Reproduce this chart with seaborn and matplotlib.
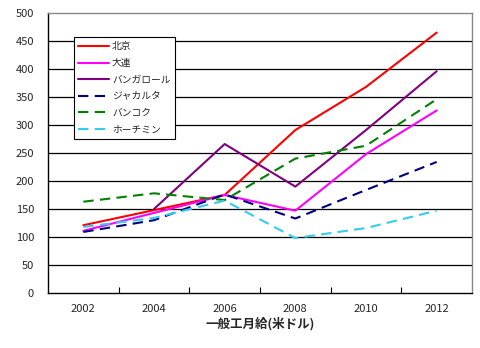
import matplotlib
matplotlib.use("Agg")
import matplotlib.pyplot as plt
import seaborn as sns
import pandas as pd
import numpy as np

years = ["2002", "2004", "2006", "2008", "2010", "2012"]
cities = ["北京", "大連", "バンガロール", "ジャカルタ", "バンコク", "ホーチミン"]
beijing = [121, 148, 175, 291, 368, 465]
dalian = [111, 143, 175, 147, 248, 326]
bangalore = [np.nan, 150, 266, 190, 291, 396]
jakarta = [109, 130, 176, 133, 184, 234]
bangkok = [163, 178, 166, 240, 263, 346]
hochiminh = [118, 134, 165, 98, 116, 147]
series = [beijing, dalian, bangalore, jakarta, bangkok, hochiminh]
colors = ["#FF0000", "#FF00FF", "#800080", "#000080", "#008000", "#33CCEE"]
dash_styles = ["", "", "", (5, 3), (5, 3), (5, 3)]
y_ticks = [0, 50, 100, 150, 200, 250, 300, 350, 400, 450, 500]

rows = []
for c, vals in zip(cities, series):
    for i, v in enumerate(vals):
        rows.append({"city": c, "x": i, "value": v})
df = pd.DataFrame(rows).dropna()

sns.set_theme(style="white")
plt.rcParams["font.family"] = ["Noto Sans CJK JP", "DejaVu Sans"]

fig = plt.figure(figsize=(4.81, 3.48), dpi=100)
ax = fig.add_axes([48 / 481, 1 - 293 / 348, (472 - 48) / 481, (293 - 13) / 348])

sns.lineplot(data=df, x="x", y="value", hue="city", style="city",
             hue_order=cities, style_order=cities,
             palette=dict(zip(cities, colors)),
             dashes=dict(zip(cities, dash_styles)),
             linewidth=1.5, ax=ax, legend=True)

ax.set_xlim(-0.5, 5.5)
ax.set_ylim(0, 500)
ax.set_yticks(y_ticks)
ax.set_yticklabels([str(t) for t in y_ticks], fontsize=8)
ax.set_xticks(range(len(years)))
ax.set_xticklabels(years, fontsize=8)
ax.set_xticks(np.arange(0.5, 5.5, 1), minor=True)
ax.tick_params(axis="x", which="major", length=0, pad=8)
ax.tick_params(axis="x", which="minor", direction="in", length=4, width=0.8, color="black", bottom=True)
ax.tick_params(axis="y", length=0, pad=10)
for t in y_ticks[1:-1]:
    ax.axhline(t, color="black", linewidth=0.9, zorder=0)
ax.set_ylabel("")
ax.set_xlabel("一般工月給(米ドル)", fontsize=9, fontweight="bold", labelpad=2)
for s in ["left", "bottom"]:
    ax.spines[s].set_color("black")
    ax.spines[s].set_linewidth(1.0)
for s in ["top", "right"]:
    ax.spines[s].set_color("#888888")
    ax.spines[s].set_linewidth(1.0)

handles, labels = ax.get_legend_handles_labels()
leg = ax.legend(handles, labels, loc="upper left", bbox_to_anchor=((74 - 48) / 424, (293 - 37) / 280),
                fontsize=7, frameon=True, fancybox=False, edgecolor="black",
                handlelength=3.2, handletextpad=0.25, labelspacing=0.68,
                borderpad=0.45, borderaxespad=0, framealpha=1)
leg.get_frame().set_linewidth(0.8)

fig.savefig("out.png", dpi=100)
